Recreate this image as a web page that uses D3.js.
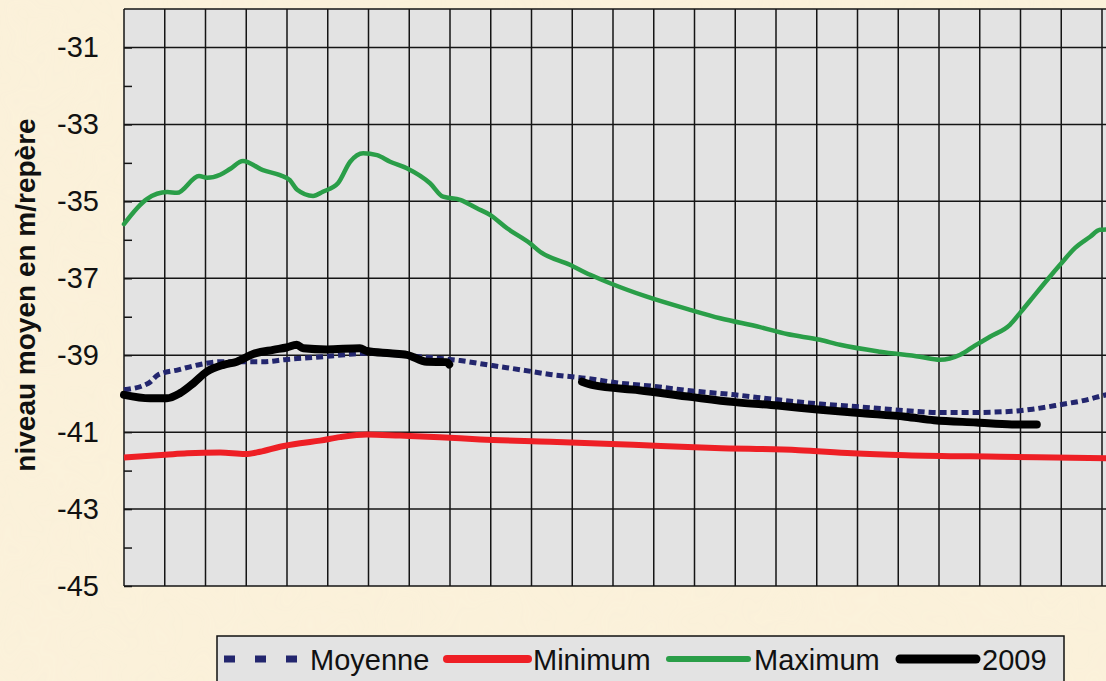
<!DOCTYPE html>
<html lang="fr">
<head>
    <meta charset="utf-8">
    <title>Niveau moyen</title>
    <script src="https://cdn.jsdelivr.net/npm/d3@7/dist/d3.min.js"></script>
    <style>
        html, body { margin: 0; padding: 0; background: #f9eed5; }
        svg { display: block; font-family: "Liberation Sans", Arial, sans-serif; }
    </style>
</head>
<body>
    <div id="chart"></div>
    <script>
        // valeurs : [pas de temps (une case = 1), niveau en m]
        const moyenne = [
            [0, -39.90], [0.60, -39.73], [0.84, -39.51], [1.33, -39.38], [1.87, -39.24],
            [2.36, -39.17], [3.42, -39.17], [3.99, -39.11], [4.65, -39.06], [5.63, -38.97],
            [5.95, -38.95], [7.26, -39.04], [8.25, -39.14], [9.04, -39.27], [9.80, -39.39],
            [10.46, -39.50], [11.33, -39.60], [12.20, -39.73], [12.99, -39.81], [13.95, -39.93],
            [14.99, -40.03], [16.04, -40.16], [17.09, -40.27], [18.13, -40.35], [19.18, -40.44],
            [20.05, -40.49], [20.75, -40.49], [21.79, -40.46], [22.32, -40.40], [23.01, -40.28],
            [23.54, -40.18], [24.06, -40.04], [24.6, -39.92]
        ];
        const minimum = [
            [0, -41.66], [1.01, -41.59], [1.55, -41.55], [2.36, -41.53], [2.97, -41.57],
            [3.34, -41.51], [3.83, -41.38], [4.32, -41.29], [4.81, -41.22], [5.30, -41.13],
            [5.96, -41.06], [6.77, -41.09], [7.75, -41.13], [8.74, -41.19], [10.46, -41.25],
            [12.5, -41.33], [14.5, -41.41], [16.56, -41.47], [17.87, -41.55], [19.18, -41.60],
            [21.5, -41.64], [24.13, -41.68], [24.6, -41.69]
        ];
        const maximum = [
            [0, -35.59], [0.56, -34.94], [1.06, -34.76], [1.30, -34.78], [1.84, -34.34],
            [2.04, -34.39], [2.36, -34.31], [2.60, -34.16], [2.92, -33.95], [3.41, -34.19],
            [3.83, -34.32], [4.07, -34.45], [4.25, -34.70], [4.64, -34.86], [4.88, -34.75],
            [5.25, -34.53], [5.55, -33.97], [5.87, -33.75], [6.21, -33.80], [6.53, -33.97],
            [6.94, -34.14], [7.51, -34.53], [7.83, -34.88], [8.25, -34.96], [8.66, -35.18],
            [8.98, -35.35], [9.40, -35.70], [9.96, -36.09], [10.21, -36.31], [10.94, -36.65],
            [11.44, -36.91], [11.93, -37.13], [12.83, -37.48], [13.89, -37.82], [14.63, -38.04],
            [15.61, -38.27], [16.27, -38.45], [17.08, -38.60], [17.57, -38.73], [18.55, -38.91],
            [19.53, -39.04], [20.02, -39.12], [20.52, -38.99], [20.88, -38.75], [21.25, -38.52],
            [21.74, -38.21], [21.99, -37.90], [22.23, -37.59], [22.72, -36.96], [22.97, -36.65],
            [23.34, -36.21], [23.71, -35.92], [23.95, -35.74], [24.3, -35.72], [24.6, -35.70]
        ];
        // l'année 2009 a une lacune entre les deux morceaux
        const annee2009a = [
            [0, -40.03], [0.64, -40.12], [1.05, -40.12], [1.37, -39.99], [1.70, -39.73],
            [2.03, -39.43], [2.44, -39.25], [2.77, -39.17], [3.17, -38.97], [3.66, -38.86],
            [3.99, -38.80], [4.24, -38.73], [4.40, -38.82], [4.97, -38.85], [5.79, -38.82],
            [5.96, -38.89], [6.53, -38.95], [6.94, -38.99], [7.43, -39.17], [7.92, -39.18],
            [7.98, -39.24]
        ];
        const annee2009b = [
            [11.24, -39.69], [11.51, -39.78], [12.64, -39.91], [13.95, -40.09], [14.99, -40.22],
            [16.04, -40.31], [17.09, -40.42], [18.13, -40.51], [19.18, -40.60], [19.88, -40.69],
            [20.92, -40.75], [21.79, -40.80], [22.40, -40.80]
        ];
        const labelsY = [-31, -33, -35, -37, -39, -41, -43, -45];
        const legende = ["Moyenne", "Minimum", "Maximum", "2009"];

        const width = 1106, height = 681;
        const gauche = 124, haut = 9, bas = 586, pas = 40.75, nbPas = 27;

        const svg = d3.select("#chart").append("svg")
            .attr("width", width)
            .attr("height", height);

        // fond beige légèrement texturé
        const defs = svg.append("defs");
        const filtre = defs.append("filter").attr("id", "papier");
        filtre.append("feTurbulence").attr("type", "fractalNoise")
            .attr("baseFrequency", 0.012).attr("numOctaves", 3).attr("seed", 4);
        filtre.append("feColorMatrix").attr("type", "matrix")
            .attr("values", "0 0 0 0 0.95  0 0 0 0 0.88  0 0 0 0 0.72  0 0 0 0.3 0");
        svg.append("rect").attr("width", width).attr("height", height).attr("fill", "#fbf1da");
        svg.append("rect").attr("width", width).attr("height", height)
            .attr("filter", "url(#papier)").attr("opacity", 0.55);

        const x = d3.scaleLinear().domain([0, nbPas]).range([gauche, gauche + nbPas * pas]);
        const y = d3.scaleLinear().domain([-45, -30]).range([bas, haut]);

        // zone de tracé
        svg.append("rect")
            .attr("x", x(0)).attr("y", y(-30))
            .attr("width", x(nbPas) - x(0)).attr("height", y(-45) - y(-30))
            .attr("fill", "#e3e3e3");

        const grille = svg.append("g").attr("stroke", "#151515").attr("stroke-width", 1.5);
        grille.selectAll(".v").data(d3.range(0, nbPas + 1)).enter().append("line")
            .attr("x1", d => x(d)).attr("x2", d => x(d))
            .attr("y1", y(-30)).attr("y2", y(-45));
        grille.selectAll(".h").data(labelsY.concat([-30])).enter().append("line")
            .attr("x1", x(0)).attr("x2", x(nbPas))
            .attr("y1", d => y(d)).attr("y2", d => y(d));

        // graduations intérieures + étiquettes
        svg.append("g")
            .attr("transform", `translate(${gauche},0)`)
            .call(d3.axisLeft(y).tickValues(d3.range(-45, -30)).tickSize(-8).tickFormat(""))
            .call(g => g.select(".domain").remove())
            .call(g => g.selectAll("line").attr("stroke", "#151515").attr("stroke-width", 1.5));

        svg.append("g")
            .attr("transform", `translate(${gauche},0)`)
            .call(d3.axisLeft(y).tickValues(labelsY).tickSize(0).tickPadding(25).tickFormat(d => String(d)))
            .call(g => g.select(".domain").remove())
            .call(g => g.selectAll("text")
                .attr("font-family", "'Liberation Sans', Arial, sans-serif")
                .attr("font-size", 29)
                .attr("fill", "#111"));

        svg.append("text")
            .attr("transform", "translate(35,295) rotate(-90)")
            .attr("text-anchor", "middle")
            .attr("font-size", 28)
            .attr("font-weight", "bold")
            .attr("fill", "#111")
            .text("niveau moyen en m/repère");

        const ligne = d3.line()
            .x(d => x(d[0]))
            .y(d => y(d[1]))
            .curve(d3.curveMonotoneX);

        const courbes = svg.append("g").attr("fill", "none")
            .attr("stroke-linejoin", "round");

        courbes.append("path").datum(minimum)
            .attr("d", ligne).attr("stroke", "#ee1f25").attr("stroke-width", 6);
        courbes.append("path").datum(maximum)
            .attr("d", ligne).attr("stroke", "#2a9e48").attr("stroke-width", 4.5)
            .attr("stroke-linecap", "round");
        courbes.append("path").datum(moyenne)
            .attr("d", ligne).attr("stroke", "#23266e").attr("stroke-width", 5)
            .attr("stroke-dasharray", "7,4");
        [annee2009a, annee2009b].forEach(serie => {
            courbes.append("path").datum(serie)
                .attr("d", ligne).attr("stroke", "#000").attr("stroke-width", 8)
                .attr("stroke-linecap", "round");
        });

        // légende
        const leg = svg.append("g");
        leg.append("rect")
            .attr("x", 217).attr("y", 636).attr("width", 847).attr("height", 60)
            .attr("fill", "#e3e3e3").attr("stroke", "#111").attr("stroke-width", 1.5);

        const styles = [
            { x1: 224, x2: 299, couleur: "#23266e", epaisseur: 7, tirets: "11,20", cap: "butt", tx: 310 },
            { x1: 447, x2: 528, couleur: "#ee1f25", epaisseur: 8, tirets: null, cap: "round", tx: 533 },
            { x1: 669, x2: 748, couleur: "#2a9e48", epaisseur: 6, tirets: null, cap: "round", tx: 754 },
            { x1: 900, x2: 976, couleur: "#000", epaisseur: 9, tirets: null, cap: "round", tx: 982 }
        ];
        legende.forEach((nom, i) => {
            const s = styles[i];
            leg.append("line")
                .attr("x1", s.x1).attr("x2", s.x2).attr("y1", 659).attr("y2", 659)
                .attr("stroke", s.couleur).attr("stroke-width", s.epaisseur)
                .attr("stroke-linecap", s.cap)
                .attr("stroke-dasharray", s.tirets);
            leg.append("text")
                .attr("x", s.tx).attr("y", 670)
                .attr("font-size", 29)
                .attr("fill", "#111")
                .text(nom);
        });
    </script>
</body>
</html>
